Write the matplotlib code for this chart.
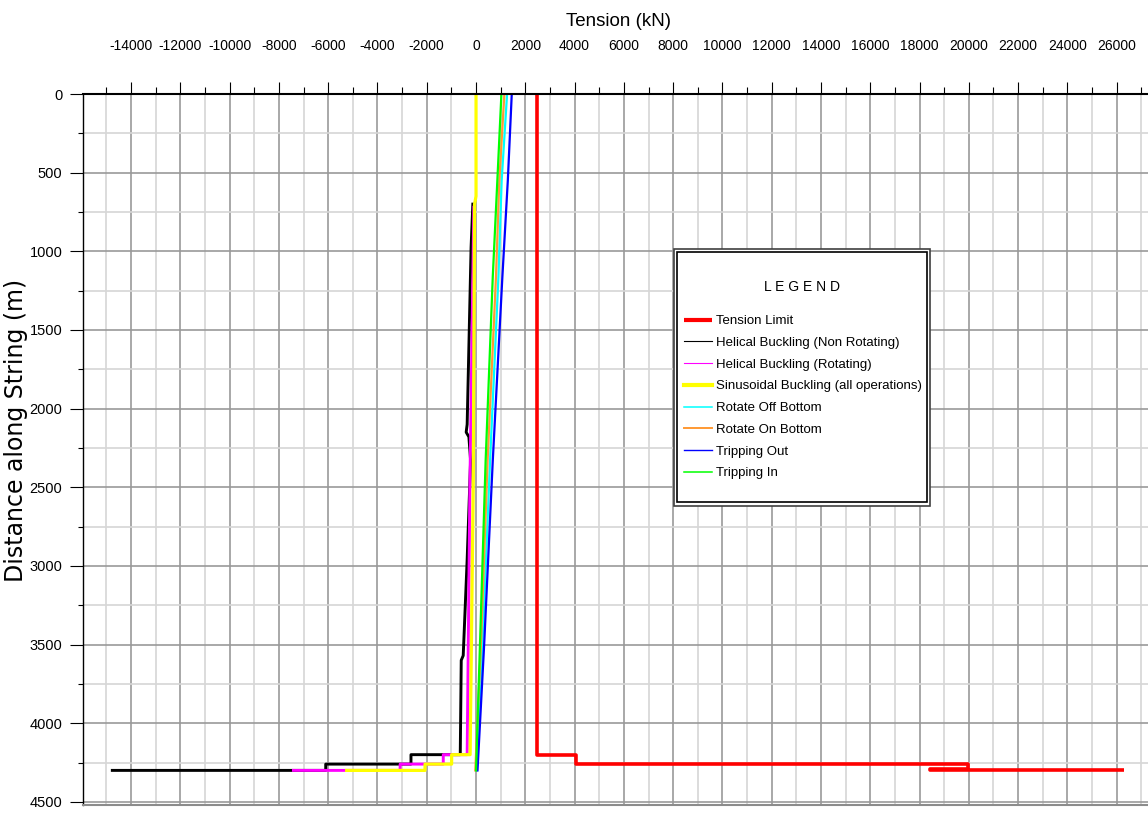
import numpy as np
import matplotlib
matplotlib.use("Agg")
import matplotlib.pyplot as plt
from matplotlib.patches import Rectangle
from matplotlib.ticker import MultipleLocator

plt.rcParams['font.family'] = ['Liberation Sans', 'DejaVu Sans']
plt.rcParams['axes.unicode_minus'] = False

# tension (kN) against distance along string (m)
limit_depth = [0, 4200, 4200, 4260, 4260, 4290, 4290, 4300, 4300]
limit_tension = [2480, 2480, 4040, 4040, 19970, 19970, 18430, 18430, 26300]

helical_nr_depth = [700, 973, 2100, 2150, 2180, 2330, 2960, 3570, 3600, 4200, 4200, 4260, 4260, 4300, 4300]
helical_nr_tension = [-130, -200, -360, -400, -290, -220, -360, -520, -600, -640, -2640, -2640, -6100, -6100, -14760]

helical_rot_depth = [720, 2500, 4200, 4200, 4260, 4260, 4300, 4300]
helical_rot_tension = [-90, -250, -360, -1330, -1330, -3080, -3080, -7410]

sinus_depth = [0, 650, 700, 2450, 4200, 4200, 4260, 4260, 4300, 4300]
sinus_tension = [0, 0, -60, -110, -240, -990, -990, -2070, -2070, -5250]

op_depth = [0, 550, 1160, 2330, 3500, 4300]
rot_off_tension = [1260, 1040, 910, 570, 260, 30]
rot_on_tension = [1150, 945, 810, 470, 200, -30]
trip_out_tension = [1450, 1290, 1070, 680, 330, 60]
trip_in_tension = [1030, 865, 680, 390, 160, 0]

labels = ['Tension Limit', 'Helical Buckling (Non Rotating)', 'Helical Buckling (Rotating)',
          'Sinusoidal Buckling (all operations)', 'Rotate Off Bottom', 'Rotate On Bottom',
          'Tripping Out', 'Tripping In']

W, H = 1148, 814
fig = plt.figure(figsize=(W / 100, H / 100), dpi=100)
ax = fig.add_axes([83 / W, 1 - 805 / H, 1 - 83 / W, (805 - 94) / H])

l_red, = ax.plot(limit_tension, limit_depth, color='#ff0000', lw=2.6, solid_capstyle='butt')
l_blk, = ax.plot(helical_nr_tension, helical_nr_depth, color='black', lw=2.1)
l_mag, = ax.plot(helical_rot_tension, helical_rot_depth, color='#ff00ff', lw=2.1)
l_yel, = ax.plot(sinus_tension, sinus_depth, color='#ffff00', lw=2.3)
l_cya, = ax.plot(rot_off_tension, op_depth, color='#00ffff', lw=1.6)
l_ora, = ax.plot(rot_on_tension, op_depth, color='#ff9933', lw=1.6)
l_blu, = ax.plot(trip_out_tension, op_depth, color='#0000ff', lw=1.6)
l_grn, = ax.plot(trip_in_tension, op_depth, color='#00ff00', lw=1.6)

ax.set_xlim(-15950, 27270)
ax.set_ylim(4520, 0)

ax.xaxis.tick_top()
ax.set_xticks(np.arange(-14000, 26001, 2000))
ax.xaxis.set_minor_locator(MultipleLocator(1000))
ax.set_yticks(np.arange(0, 4501, 500))
ax.yaxis.set_minor_locator(MultipleLocator(250))

ax.tick_params(axis='x', which='major', length=8.6, width=0.8, pad=21, labelsize=10)
ax.tick_params(axis='x', which='minor', length=5, width=0.8)
ax.tick_params(axis='y', which='major', length=9.4, width=0.8, pad=5.5, labelsize=10.5)
ax.tick_params(axis='y', which='minor', length=3.6, width=0.8)

ax.grid(which='major', color='#999999', lw=1.2)
ax.grid(which='minor', color='#d6d6d6', lw=1.2)
ax.set_axisbelow(True)

ax.spines['right'].set_visible(False)
ax.spines['top'].set_linewidth(1.5)
ax.spines['left'].set_linewidth(1.0)
ax.spines['bottom'].set_color('#8c8c8c')
ax.spines['bottom'].set_linewidth(1.5)

ax.set_ylabel('Distance along String (m)', family='DejaVu Sans', fontsize=17)
ax.yaxis.set_label_coords(-0.0515, 0.527)
fig.text(618 / W, 1 - 21 / H, 'Tension (kN)', ha='center', va='center', fontsize=13.5)

# legend box with double border
fig.patches.append(Rectangle((674 / W, 1 - 506 / H), 256 / W, 257 / H, transform=fig.transFigure,
                             facecolor='white', edgecolor='#404040', lw=1.2, zorder=1))
fig.patches.append(Rectangle((677 / W, 1 - 502 / H), 250 / W, 250 / H, transform=fig.transFigure,
                             facecolor='none', edgecolor='black', lw=1.2, zorder=1))
fig.text(802 / W, 1 - 287 / H, 'L E G E N D', ha='center', va='center', fontsize=10)

leg = fig.legend([l_red, l_blk, l_mag, l_yel, l_cya, l_ora, l_blu, l_grn], labels,
                 loc='upper left', bbox_to_anchor=(684 / W, 1 - 315 / H), frameon=False,
                 fontsize=9.5, handlelength=2.12, handletextpad=0.3, labelspacing=0.72,
                 borderpad=0, borderaxespad=0)
for h, w in zip(leg.legend_handles, [3, 0.8, 0.8, 3, 1.1, 1.4, 1.0, 1.1]):
    h.set_linewidth(w)

fig.savefig('out.png', dpi=100)
